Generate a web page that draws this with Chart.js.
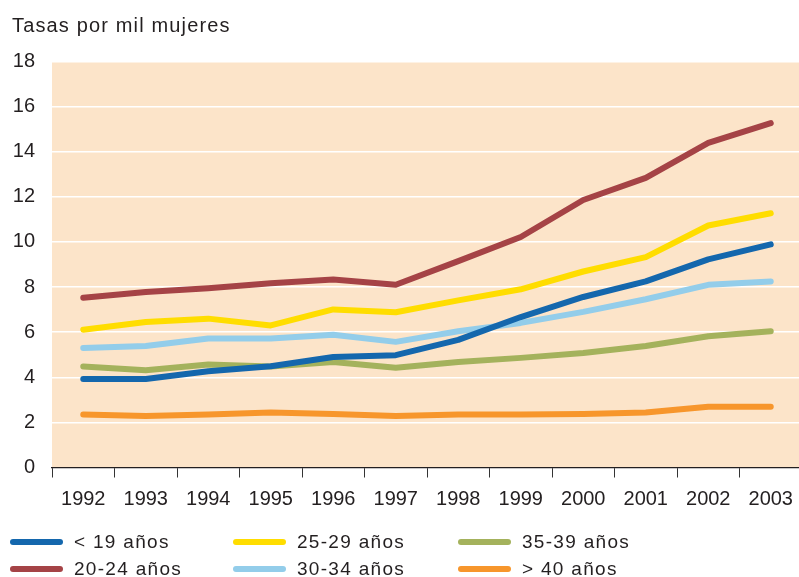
<!DOCTYPE html>
<html>
<head>
<meta charset="utf-8">
<script src="https://cdn.jsdelivr.net/npm/chart.js@4.4.1/dist/chart.umd.min.js"></script>
<style>
  html, body { margin:0; padding:0; background:#fff; overflow:hidden; width:799px; height:577px; }
  #wrap { position:absolute; left:0; top:0; width:805px; height:577px; }
  #title { position:absolute; left:12px; top:13px; font:20px "Liberation Sans", Arial, sans-serif; line-height:24px; letter-spacing:1.15px; color:#231f20; white-space:nowrap; }
  .lg-line { position:absolute; height:6px; width:53px; border-radius:3px; }
  .lg-text { position:absolute; font:19px "Liberation Sans", Arial, sans-serif; line-height:22px; letter-spacing:1.3px; color:#231f20; white-space:nowrap; }
</style>
</head>
<body>
<div id="wrap"><canvas id="c" width="805" height="577"></canvas></div>
<div id="title">Tasas por mil mujeres</div>
<div id="legend"></div>
<script>
const years = ['1992','1993','1994','1995','1996','1997','1998','1999','2000','2001','2002','2003'];
const under19 = [3.92,3.92,4.27,4.49,4.90,4.98,5.66,6.67,7.56,8.25,9.23,9.89];
const a20_24  = [7.53,7.78,7.95,8.17,8.33,8.10,9.15,10.22,11.86,12.84,14.39,15.27];
const a25_29  = [6.11,6.45,6.60,6.30,7.01,6.88,7.41,7.90,8.69,9.33,10.73,11.27];
const a30_34  = [5.30,5.39,5.72,5.72,5.89,5.57,6.04,6.41,6.90,7.46,8.10,8.25];
const a35_39  = [4.48,4.31,4.57,4.48,4.68,4.42,4.68,4.86,5.08,5.39,5.82,6.04];
const over40  = [2.35,2.28,2.35,2.44,2.37,2.28,2.35,2.35,2.37,2.44,2.69,2.69];
const seriesNames = ['< 19 años','20-24 años','25-29 años','30-34 años','35-39 años','> 40 años'];
const seriesData = [under19, a20_24, a25_29, a30_34, a35_39, over40];
const seriesColors = ['#1467ad','#a54346','#ffdd00','#93cdea','#a4b25c','#f7962c'];
const yTicks = [0,2,4,6,8,10,12,14,16,18];

const FONT = '"Liberation Sans", Arial, sans-serif';

const bgPlugin = {
  id: 'bg',
  beforeDraw(chart) {
    const {ctx, chartArea:a} = chart;
    ctx.save();
    ctx.fillStyle = '#fce4c9';
    ctx.fillRect(a.left, a.top, a.right - a.left, a.bottom - a.top);
    ctx.restore();
  }
};

new Chart(document.getElementById('c'), {
  type: 'line',
  data: {
    labels: years,
    datasets: seriesData.map((d, i) => ({
      label: seriesNames[i],
      data: d,
      borderColor: seriesColors[i],
      backgroundColor: seriesColors[i],
      borderWidth: 6,
      borderCapStyle: 'round',
      borderJoinStyle: 'round',
      pointRadius: 0,
      tension: 0,
      fill: false
    }))
  },
  options: {
    responsive: false,
    animation: false,
    events: [],
    layout: { padding: { left: 0, right: 3, top: 61.5, bottom: 59.5 } },
    plugins: { legend: { display: false }, tooltip: { enabled: false }, title: { display: false } },
    scales: {
      x: {
        type: 'category',
        offset: true,
        grid: { display: true, offset: true, drawOnChartArea: false, drawTicks: true, tickLength: 10, color: '#333', lineWidth: 1 },
        border: { display: true, color: '#231f20', width: 1.2 },
        ticks: { color: '#231f20', font: { family: FONT, size: 20 }, padding: 10, maxRotation: 0, autoSkip: false },
        afterFit(s) { s.height = 50; }
      },
      y: {
        min: 0, max: 18,
        afterBuildTicks(s) { s.ticks = yTicks.map(v => ({ value: v })); },
        grid: { color: (c) => c.tick.value === 0 ? 'rgba(0,0,0,0)' : '#ffffff', lineWidth: 1.5, drawTicks: false },
        border: { display: false },
        ticks: { color: '#231f20', font: { family: FONT, size: 20 }, padding: 17 },
        afterFit(s) { s.width = 52; }
      }
    }
  },
  plugins: [bgPlugin]
});

// HTML legend built from the series arrays (column-wise order as in the reference)
const legend = document.getElementById('legend');
const colX = [10, 233, 458];
const rowY = [542, 569];
seriesNames.forEach((name, i) => {
  const col = Math.floor(i / 2), row = i % 2;
  const line = document.createElement('div');
  line.className = 'lg-line';
  line.style.left = colX[col] + 'px';
  line.style.top = (rowY[row] - 3) + 'px';
  line.style.background = seriesColors[i];
  legend.appendChild(line);
  const t = document.createElement('div');
  t.className = 'lg-text';
  t.style.left = (colX[col] + 64) + 'px';
  t.style.top = (rowY[row] - 11) + 'px';
  t.textContent = name;
  legend.appendChild(t);
});
</script>
</body>
</html>
